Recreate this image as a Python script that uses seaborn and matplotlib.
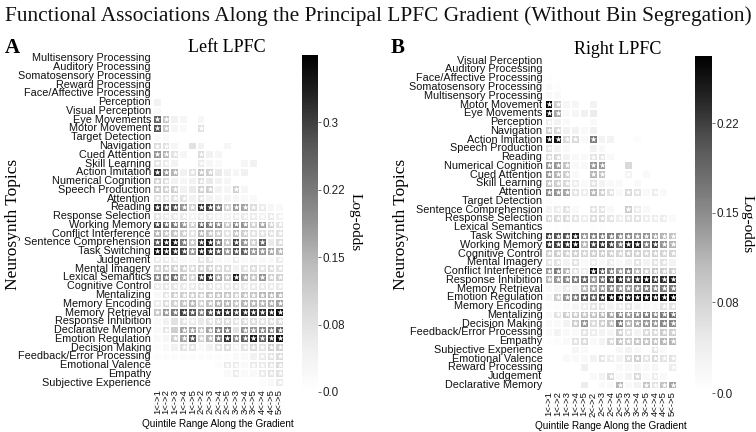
import numpy as np
import pandas as pd
import seaborn as sns
import matplotlib
matplotlib.use("Agg")
import matplotlib.pyplot as plt

# ---------------- data ----------------
quintile_ranges = ["1<->1", "1<->2", "1<->3", "1<->4", "1<->5",
                   "2<->2", "2<->3", "2<->4", "2<->5",
                   "3<->3", "3<->4", "3<->5",
                   "4<->4", "4<->5", "5<->5"]

left_topics = ["Multisensory Processing", "Auditory Processing", "Somatosensory Processing",
               "Reward Processing", "Face/Affective Processing", "Perception", "Visual Perception",
               "Eye Movements", "Motor Movement", "Target Detection", "Navigation", "Cued Attention",
               "Skill Learning", "Action Imitation", "Numerical Cognition", "Speech Production",
               "Attention", "Reading", "Response Selection", "Working Memory", "Conflict Interference",
               "Sentence Comprehension", "Task Switching", "Judgement", "Mental Imagery",
               "Lexical Semantics", "Cognitive Control", "Mentalizing", "Memory Encoding",
               "Memory Retrieval", "Response Inhibition", "Declarative Memory", "Emotion Regulation",
               "Decision Making", "Feedback/Error Processing", "Emotional Valence", "Empathy",
               "Subjective Experience"]

left_values = [
    [0, 0, 0, 0, 0, 0, 0, 0, 0, 0, 0, 0, 0, 0, 0],
    [0, 0, 0, 0, 0, 0, 0, 0, 0, 0, 0, 0, 0, 0, 0],
    [0, 0, 0, 0, 0, 0, 0, 0, 0, 0, 0, 0, 0, 0, 0],
    [0, 0, 0, 0, 0, 0, 0, 0, 0, 0, 0, 0, 0, 0, 0],
    [0, 0, 0, 0, 0, 0, 0, 0, 0, 0, 0, 0, 0, 0, 0],
    [0.04, 0, 0, 0, 0, 0, 0, 0, 0, 0, 0, 0, 0, 0, 0],
    [0.015, 0, 0, 0, 0, 0, 0, 0, 0, 0, 0, 0, 0, 0, 0],
    [0.26, 0.13, 0.04, 0.03, 0, 0.03, 0, 0, 0, 0, 0, 0, 0, 0, 0],
    [0.28, 0.13, 0.03, 0.02, 0, 0.08, 0, 0, 0, 0, 0, 0, 0, 0, 0],
    [0.02, 0.02, 0, 0, 0, 0, 0, 0, 0, 0, 0, 0, 0, 0, 0],
    [0.09, 0.08, 0.03, 0, 0.075, 0.04, 0, 0, 0.03, 0, 0, 0, 0, 0, 0],
    [0.19, 0.15, 0.075, 0.03, 0, 0.09, 0.04, 0.03, 0, 0, 0, 0, 0, 0, 0],
    [0.075, 0.06, 0.04, 0, 0, 0.06, 0.03, 0.02, 0, 0, 0.03, 0.04, 0, 0, 0],
    [0.32, 0.19, 0.15, 0.04, 0.075, 0.13, 0.11, 0.06, 0.04, 0.03, 0.045, 0, 0, 0, 0],
    [0.11, 0.09, 0.04, 0.03, 0.04, 0.09, 0.06, 0.04, 0.03, 0, 0, 0, 0, 0, 0],
    [0.13, 0.11, 0.11, 0.04, 0.06, 0.11, 0.11, 0.04, 0.03, 0.11, 0.03, 0, 0, 0, 0],
    [0.075, 0.075, 0.075, 0.075, 0.04, 0.075, 0.04, 0.03, 0.03, 0.03, 0.02, 0.02, 0, 0, 0],
    [0.32, 0.30, 0.28, 0.19, 0.11, 0.32, 0.30, 0.225, 0.11, 0.19, 0.17, 0.09, 0.06, 0.03, 0.02],
    [0.075, 0.06, 0.06, 0.06, 0.04, 0.06, 0.06, 0.04, 0.04, 0.06, 0.06, 0.06, 0.04, 0.06, 0.04],
    [0.30, 0.26, 0.225, 0.19, 0.11, 0.26, 0.225, 0.21, 0.13, 0.21, 0.19, 0.11, 0.17, 0.11, 0.075],
    [0.15, 0.13, 0.13, 0.11, 0.075, 0.15, 0.13, 0.11, 0.075, 0.13, 0.11, 0.075, 0.075, 0.075, 0.075],
    [0.28, 0.34, 0.34, 0.225, 0.13, 0.32, 0.34, 0.225, 0.13, 0.30, 0.19, 0.11, 0.26, 0.06, 0.09],
    [0.36, 0.34, 0.32, 0.30, 0.19, 0.34, 0.32, 0.28, 0.19, 0.28, 0.26, 0.19, 0.19, 0.17, 0.15],
    [0.06, 0.06, 0.06, 0.02, 0.02, 0.075, 0.075, 0.02, 0.02, 0.06, 0.02, 0.02, 0.02, 0.02, 0.06],
    [0.11, 0.11, 0.11, 0.11, 0.09, 0.11, 0.11, 0.09, 0.09, 0.04, 0.075, 0.09, 0.075, 0.09, 0.075],
    [0.21, 0.225, 0.245, 0.15, 0.11, 0.30, 0.32, 0.17, 0.13, 0.34, 0.17, 0.13, 0.19, 0.11, 0.11],
    [0.06, 0.07, 0.07, 0.06, 0.06, 0.07, 0.07, 0.06, 0.06, 0.07, 0.06, 0.06, 0.06, 0.06, 0.06],
    [0.02, 0.075, 0.11, 0.11, 0.11, 0.11, 0.13, 0.13, 0.13, 0.11, 0.13, 0.13, 0.15, 0.15, 0.15],
    [0.06, 0.09, 0.11, 0.13, 0.15, 0.11, 0.13, 0.15, 0.15, 0.13, 0.15, 0.15, 0.15, 0.16, 0.17],
    [0.13, 0.19, 0.225, 0.30, 0.28, 0.225, 0.28, 0.32, 0.32, 0.30, 0.32, 0.32, 0.32, 0.34, 0.36],
    [0.02, 0.04, 0.075, 0.075, 0.06, 0.06, 0.075, 0.09, 0.09, 0.075, 0.09, 0.09, 0.075, 0.09, 0.09],
    [0.02, 0.075, 0.11, 0.17, 0.17, 0.13, 0.17, 0.225, 0.225, 0.075, 0.19, 0.19, 0.21, 0.225, 0.26],
    [0.02, 0.03, 0.11, 0.17, 0.28, 0.11, 0.15, 0.225, 0.32, 0.21, 0.26, 0.34, 0.26, 0.32, 0.36],
    [0.01, 0.02, 0.04, 0.075, 0.075, 0.02, 0.04, 0.075, 0.09, 0.04, 0.075, 0.09, 0.075, 0.11, 0.11],
    [0.01, 0.01, 0.01, 0.01, 0.01, 0.01, 0.01, 0.01, 0.01, 0.02, 0.02, 0.04, 0.06, 0.075, 0.09],
    [0, 0, 0, 0, 0, 0, 0, 0.01, 0.06, 0.06, 0.02, 0.06, 0.06, 0.075, 0.09],
    [0, 0, 0, 0, 0, 0, 0, 0, 0.02, 0.06, 0.02, 0.02, 0.06, 0.075, 0.075],
    [0, 0, 0, 0, 0, 0, 0, 0, 0, 0, 0, 0, 0.01, 0.02, 0.06],
]

left_significant = [
    "000000000000000", "000000000000000", "000000000000000", "000000000000000",
    "000000000000000", "000000000000000", "000000000000000",
    "110000000000000", "110001000000000", "000000000000000", "110000000000000",
    "111001000000000", "110001000000000", "111011100000000", "110001000000000",
    "111001100100000", "111101000000000", "111111111111100", "111111111111111",
    "111111111111111", "111111111111111", "111111111111101", "111111111111111",
    "111001100100001", "111111111011111", "111111111111111", "111111111111111",
    "011111111111111", "111111111111111", "111111111111111", "000110111111111",
    "010111111011111", "001111111111111", "000110011111111", "000000000000111",
    "000000001101111", "000000000100111", "000000000000001",
]

right_topics = ["Visual Perception", "Auditory Processing", "Face/Affective Processing",
                "Somatosensory Processing", "Multisensory Processing", "Motor Movement",
                "Eye Movements", "Perception", "Navigation", "Action Imitation",
                "Speech Production", "Reading", "Numerical Cognition", "Cued Attention",
                "Skill Learning", "Attention", "Target Detection", "Sentence Comprehension",
                "Response Selection", "Lexical Semantics", "Task Switching", "Working Memory",
                "Cognitive Control", "Mental Imagery", "Conflict Interference",
                "Response Inhibition", "Memory Retrieval", "Emotion Regulation",
                "Memory Encoding", "Mentalizing", "Decision Making", "Feedback/Error Processing",
                "Empathy", "Subjective Experience", "Emotional Valence", "Reward Processing",
                "Judgement", "Declarative Memory"]

right_values = [
    [0, 0, 0, 0, 0, 0, 0, 0, 0, 0, 0, 0, 0, 0, 0],
    [0, 0, 0, 0, 0, 0, 0, 0, 0, 0, 0, 0, 0, 0, 0],
    [0.005, 0, 0, 0, 0, 0, 0, 0, 0, 0, 0, 0, 0, 0, 0],
    [0.014, 0.005, 0, 0, 0, 0, 0, 0, 0, 0, 0, 0, 0, 0, 0],
    [0.014, 0.014, 0, 0, 0, 0, 0, 0, 0, 0, 0, 0, 0, 0, 0],
    [0.27, 0.083, 0.022, 0.022, 0, 0.028, 0, 0, 0, 0, 0, 0, 0, 0, 0],
    [0.26, 0.124, 0.014, 0.022, 0.033, 0.041, 0, 0, 0, 0, 0, 0, 0, 0, 0],
    [0.041, 0.028, 0.014, 0, 0, 0.014, 0, 0, 0, 0, 0, 0, 0, 0, 0],
    [0.083, 0.069, 0.028, 0.028, 0.014, 0.033, 0, 0, 0, 0, 0, 0, 0, 0, 0],
    [0.27, 0.26, 0.069, 0.069, 0.014, 0.165, 0.028, 0.028, 0, 0, 0.008, 0, 0, 0, 0],
    [0.055, 0.028, 0.014, 0, 0, 0.028, 0.014, 0, 0, 0, 0, 0, 0, 0, 0],
    [0.069, 0.069, 0.028, 0.014, 0.014, 0.055, 0.055, 0.014, 0, 0, 0, 0, 0, 0, 0],
    [0.138, 0.138, 0.096, 0.014, 0.014, 0.138, 0.138, 0, 0, 0.069, 0, 0, 0, 0, 0],
    [0.138, 0.11, 0.083, 0.014, 0, 0.11, 0.096, 0, 0, 0.028, 0, 0.014, 0, 0, 0],
    [0.096, 0.083, 0.069, 0.041, 0.014, 0.055, 0.028, 0.014, 0.014, 0, 0.014, 0, 0, 0, 0],
    [0.151, 0.138, 0.124, 0.055, 0.041, 0.11, 0.083, 0.055, 0.014, 0.069, 0.055, 0.014, 0.041, 0.014, 0],
    [0.008, 0, 0, 0, 0, 0, 0, 0, 0, 0, 0, 0, 0, 0, 0],
    [0.028, 0.041, 0.055, 0.014, 0, 0.055, 0.055, 0.014, 0, 0.083, 0.041, 0.014, 0, 0, 0],
    [0.069, 0.069, 0.069, 0.055, 0.041, 0.069, 0.069, 0.055, 0.041, 0.055, 0.055, 0.041, 0.041, 0.041, 0.014],
    [0.005, 0.005, 0.005, 0, 0, 0.005, 0.005, 0, 0, 0, 0, 0, 0, 0, 0],
    [0.22, 0.206, 0.206, 0.248, 0.138, 0.165, 0.165, 0.165, 0.151, 0.151, 0.138, 0.138, 0.124, 0.11, 0.096],
    [0.234, 0.22, 0.234, 0.261, 0.11, 0.22, 0.234, 0.22, 0.179, 0.248, 0.248, 0.165, 0.22, 0.138, 0.11],
    [0.083, 0.083, 0.08, 0.083, 0.075, 0.083, 0.083, 0.08, 0.075, 0.083, 0.08, 0.075, 0.08, 0.075, 0.075],
    [0.055, 0.055, 0.028, 0.055, 0.014, 0.041, 0.014, 0.041, 0.014, 0.028, 0.055, 0.028, 0.055, 0.055, 0.028],
    [0.138, 0.165, 0.11, 0.055, 0.041, 0.261, 0.206, 0.165, 0.138, 0.165, 0.11, 0.083, 0.096, 0.083, 0.083],
    [0.11, 0.138, 0.151, 0.165, 0.193, 0.138, 0.179, 0.22, 0.234, 0.206, 0.234, 0.261, 0.22, 0.234, 0.248],
    [0.014, 0.022, 0.041, 0.028, 0.11, 0.124, 0.138, 0.151, 0.138, 0.138, 0.151, 0.165, 0.151, 0.165, 0.165],
    [0.022, 0.083, 0.138, 0.165, 0.206, 0.193, 0.234, 0.261, 0.261, 0.248, 0.261, 0.261, 0.261, 0.261, 0.275],
    [0.005, 0.008, 0.014, 0.022, 0.041, 0.055, 0.055, 0.028, 0.041, 0.055, 0.028, 0.014, 0.014, 0.055, 0.055],
    [0.014, 0.055, 0.083, 0.083, 0.096, 0.096, 0.11, 0.124, 0.151, 0.138, 0.151, 0.165, 0.151, 0.165, 0.179],
    [0.014, 0.014, 0.028, 0.083, 0.138, 0.069, 0.083, 0.096, 0.165, 0.11, 0.124, 0.138, 0.138, 0.151, 0.151],
    [0.014, 0.028, 0.014, 0.014, 0.055, 0.041, 0.028, 0.022, 0.083, 0.055, 0.028, 0.069, 0.069, 0.083, 0.083],
    [0.005, 0.008, 0.014, 0.055, 0.069, 0.014, 0.028, 0.069, 0.096, 0.083, 0.096, 0.096, 0.096, 0.11, 0.11],
    [0, 0, 0, 0.022, 0.014, 0, 0, 0, 0.022, 0.028, 0.014, 0, 0.055, 0.014, 0],
    [0, 0, 0.014, 0.014, 0.014, 0.028, 0.055, 0.041, 0.028, 0.069, 0.083, 0.055, 0.069, 0.055, 0.055],
    [0, 0, 0, 0, 0.033, 0, 0, 0, 0.014, 0.014, 0.022, 0.014, 0.022, 0, 0.041],
    [0, 0, 0, 0, 0, 0.014, 0.028, 0.069, 0.014, 0.028, 0.069, 0.014, 0.041, 0.014, 0],
    [0, 0, 0, 0, 0.041, 0, 0.014, 0.014, 0.11, 0.014, 0.028, 0.096, 0.055, 0.096, 0.124],
]

right_significant = [
    "000000000000000", "000000000000000", "000000000000000", "000000000000000",
    "000000000000000", "110000000000000", "110000000000000", "100000000000000",
    "110000000000000", "111101000000000", "100000000000000", "110001100000000",
    "111001100000000", "111001100100000", "111101000000000", "111111110110100",
    "000000000000000", "011001100110000", "111111111111110", "000000000000000",
    "111111111111111", "111111111111111", "111111111111111", "110101010010110",
    "111111111111111", "111111111111111", "001011111111111", "011111111111111",
    "000011101100011", "011111111111111", "000111111111111", "000011001101111",
    "000110011111111", "000000000000100", "000000110111111", "000000000000001",
    "000000010010100", "000000001001111",
]

left_vmax = 0.375
right_vmax = 0.275
left_cbar_ticks = [0.0, 0.075, 0.15, 0.225, 0.3]
left_cbar_labels = ["0.0", "0.08", "0.15", "0.22", "0.3"]
right_cbar_ticks = [0.0, 0.074, 0.147, 0.22]
right_cbar_labels = ["0.0", "0.08", "0.15", "0.22"]

# ---------------- figure ----------------
SANS = "Liberation Sans"
SERIF = "Liberation Serif"
W, H = 756, 432
fig = plt.figure(figsize=(W / 100, H / 100), dpi=100)


def px_axes(x0, y0, x1, y1):
    return fig.add_axes([x0 / W, 1 - y1 / H, (x1 - x0) / W, (y1 - y0) / H])


def draw_panel(topics, values, sig, vmax, ticks, tlabels, ax_box, cb_box):
    df = pd.DataFrame(values, index=topics, columns=quintile_ranges)
    stars = np.array([["\u2605" if ch == "1" else "" for ch in row] for row in sig])
    ax = px_axes(*ax_box)
    cax = px_axes(*cb_box)
    sns.heatmap(df, ax=ax, cbar_ax=cax, cmap="Greys", vmin=0, vmax=vmax,
                linewidths=0.35, linecolor="white",
                annot=stars, fmt="", annot_kws=dict(color="white", fontsize=5.8,
                                                    family="DejaVu Sans"),
                xticklabels=True, yticklabels=True)
    ax.tick_params(axis="both", length=0, pad=1.5)
    for t in ax.get_yticklabels():
        t.set_rotation(0)
        t.set_fontsize(7.8)
        t.set_family(SANS)
        t.set_color("#111111")
    for t in ax.get_xticklabels():
        t.set_rotation(90)
        t.set_fontsize(6.8)
        t.set_family(SANS)
        t.set_color("#111111")
    ax.set_xlabel("")
    ax.set_ylabel("")
    cb = ax.collections[0].colorbar
    cb.outline.set_visible(False)
    cb.set_ticks(ticks)
    cb.set_ticklabels(tlabels)
    cb.ax.tick_params(labelsize=8.4, length=2, width=0.6, color="#555555",
                      labelcolor="#222222", pad=1)
    for t in cb.ax.get_yticklabels():
        t.set_family(SANS)
    return ax


draw_panel(left_topics, left_values, left_significant, left_vmax,
           left_cbar_ticks, left_cbar_labels, (153, 54, 284, 387), (302, 55, 318, 392))
draw_panel(right_topics, right_values, right_significant, right_vmax,
           right_cbar_ticks, right_cbar_labels, (544.5, 56.3, 677, 389.4), (695, 56, 712, 393))

# texts
def ftext(x, y, s, **kw):
    fig.text(x / W, 1 - y / H, s, **kw)

ftext(378, 16, "Functional Associations Along the Principal LPFC Gradient (Without Bin Segregation)",
      ha="center", va="center", fontsize=15.4, family=SERIF, color="#111111")
ftext(12, 48, "A", ha="center", va="center", fontsize=15, fontweight="bold", family=SERIF)
ftext(398, 48, "B", ha="center", va="center", fontsize=15, fontweight="bold", family=SERIF)
ftext(227, 48, "Left LPFC", ha="center", va="center", fontsize=13, family=SERIF)
ftext(618, 49, "Right LPFC", ha="center", va="center", fontsize=13, family=SERIF)
ftext(13, 224, "Neurosynth Topics", ha="center", va="center", rotation=90, fontsize=12.5, family=SERIF)
ftext(401, 224, "Neurosynth Topics", ha="center", va="center", rotation=90, fontsize=12.5, family=SERIF)
ftext(355, 222, "Log-odds", ha="center", va="center", rotation=270, fontsize=11, family=SERIF)
ftext(747, 224, "Log-odds", ha="center", va="center", rotation=270, fontsize=11, family=SERIF)
ftext(218, 424, "Quintile Range Along the Gradient", ha="center", va="center", fontsize=7.2, family=SANS)
ftext(611, 426, "Quintile Range Along the Gradient", ha="center", va="center", fontsize=7.2, family=SANS)

fig.savefig("out.png", dpi=100, facecolor="white")
